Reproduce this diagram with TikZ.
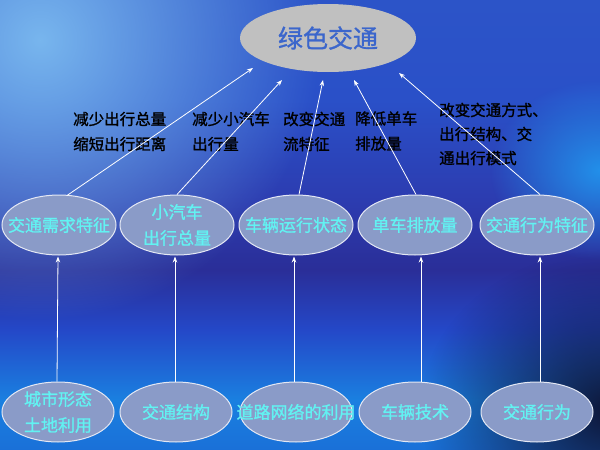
\documentclass[tikz,border=0pt]{standalone}
\usepackage{fontspec}
\newfontfamily\cjk{Noto Sans CJK SC}
\newfontfamily\cjkb[FakeBold=1.2]{Noto Sans CJK SC}
\usetikzlibrary{shapes.geometric,arrows.meta,fadings,calc}
\definecolor{sA}{HTML}{2C54C8}
\definecolor{sB}{HTML}{2A50C8}
\definecolor{sC}{HTML}{2C3CB0}
\definecolor{sD}{HTML}{2A2E98}
\definecolor{sE}{HTML}{2448C8}
\definecolor{sF}{HTML}{1A80E0}
\definecolor{sG}{HTML}{1A70D8}
\definecolor{glowA}{HTML}{78B6EE}
\definecolor{glowB}{HTML}{2290EA}
\definecolor{darkC}{HTML}{0E1436}
\definecolor{silverF}{HTML}{C0C0C0}
\definecolor{topblue}{HTML}{3B66CC}
\definecolor{ellfill}{HTML}{8A9BC8}
\definecolor{ellline}{HTML}{E4E8F4}
\definecolor{cyantext}{HTML}{62F2F2}
\pgfdeclareverticalshading{bgv}{100bp}{color(0bp)=(sG); color(25bp)=(sG); color(30.56bp)=(sF); color(38.33bp)=(sE); color(45bp)=(sD); color(52.78bp)=(sC); color(63.89bp)=(sB); color(75bp)=(sA); color(100bp)=(sA)}
\tikzfading[name=fadeout, inner color=transparent!0, outer color=transparent!100]
\tikzset{
  topell/.style={ellipse, fill=silverF, minimum width=176pt, minimum height=68pt, inner sep=0pt},
  toptxt/.style={text=topblue, font=\cjkb\fontsize{25}{28}\selectfont, inner sep=0pt},
  midell/.style={ellipse, fill=ellfill, draw=ellline, line width=1pt, minimum width=114pt, minimum height=60pt, inner sep=0pt},
  botell/.style={midell, minimum width=112pt},
  elltxt/.style={text=cyantext, font=\cjkb\fontsize{17}{26}\selectfont, align=center, inner sep=0pt},
  lbl/.style={anchor=west, align=left, inner sep=0pt, text=black, font=\cjkb\fontsize{15.5}{25}\selectfont},
  arr/.style={draw=white, line width=0.8pt, -{Stealth[length=6pt,width=4.5pt]}}
}
\begin{document}
\begin{tikzpicture}[x=1pt,y=-1pt]
\useasboundingbox (0,0) rectangle (600,450);
% background
\shade[shading=bgv] (0,0) rectangle (600,450);
\fill[glowA, path fading=fadeout] (40,40) circle (280);
\fill[glowB, path fading=fadeout] (600,170) ellipse (110 and 90);
\fill[darkC, path fading=fadeout] (610,410) ellipse (190 and 160);
% top node
\node[topell, label={[toptxt]center:绿色交通}] (top) at (328,38) {};
% middle row
\node[midell, label={[elltxt]center:交通需求特征}] (m1) at (59,225) {};
\node[midell, label={[elltxt]center:小汽车\\出行总量}] (m2) at (177,225) {};
\node[midell, label={[elltxt]center:车辆运行状态}] (m3) at (296,225) {};
\node[midell, label={[elltxt]center:单车排放量}] (m4) at (415,225) {};
\node[midell, label={[elltxt]center:交通行为特征}] (m5) at (537,225) {};
% bottom row
\node[botell, label={[elltxt]center:城市形态\\土地利用}] (b1) at (58,412) {};
\node[botell, label={[elltxt]center:交通结构}] (b2) at (176,412) {};
\node[botell, label={[elltxt]center:道路网络的利用}] (b3) at (296,412) {};
\node[botell, label={[elltxt]center:车辆技术}] (b4) at (415,412) {};
\node[botell, label={[elltxt]center:交通行为}] (b5) at (537,412) {};
% labels
\node[lbl] (l1) at (73,131.5) {减少出行总量\\缩短出行距离};
\node[lbl] (l2) at (192,131.5) {减少小汽车\\出行量};
\node[lbl] (l3) at (283,131.5) {改变交通\\流特征};
\node[lbl] (l4) at (355,131) {降低单车\\排放量};
\node[lbl, font=\cjkb\fontsize{15.5}{24}\selectfont] (l5) at (439,134) {改变交通方式、\\出行结构、交\\通出行模式};
% arrow tips near the top node
\coordinate (t1) at (253,68);
\coordinate (t2) at (282,80);
\coordinate (t3) at (323,80);
\coordinate (t4) at (354,80);
\coordinate (t5) at (399,73);
% upward arrows to top
\draw[arr] ($(m1.north)+(8,1)$) -- (t1);
\draw[arr] ($(m2.north)+(0,0)$) -- (t2);
\draw[arr] ($(m3.north)+(3,0)$) -- (t3);
\draw[arr] ($(m4.north)+(1,0)$) -- (t4);
\draw[arr] ($(m5.north)+(3,0)$) -- (t5);
% vertical arrows
\draw[arr, shorten >=1pt] ($(b1.north)+(-1,0)$) -- ($(m1.south)+(-1,0)$);
\draw[arr, shorten >=1pt] ($(b2.north)+(-1,0)$) -- ($(m2.south)+(-2,0)$);
\draw[arr, shorten >=1pt] ($(b3.north)+(-2,0)$) -- ($(m3.south)+(-2,0)$);
\draw[arr, shorten >=1pt] ($(b4.north)+(6,0)$) -- ($(m4.south)+(6,0)$);
\draw[arr, shorten >=1pt] ($(b5.north)+(3,0)$) -- ($(m5.south)+(3,0)$);
\end{tikzpicture}
\end{document}
